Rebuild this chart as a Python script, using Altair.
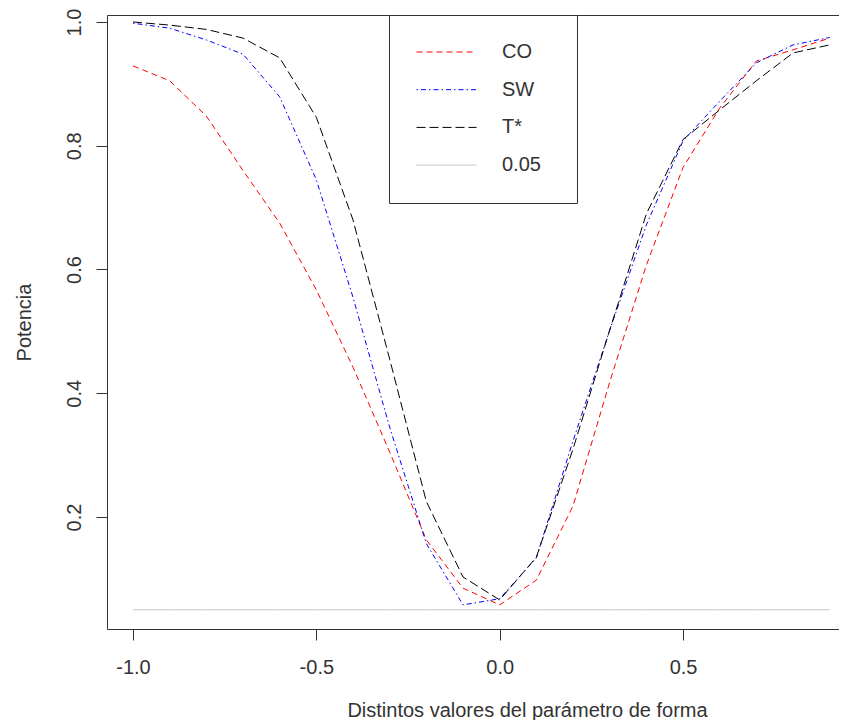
import altair as alt
import pandas as pd

# x: distinct values of the shape parameter
x_vals = [-1.0, -0.9, -0.8, -0.7, -0.6, -0.5, -0.4, -0.3, -0.2, -0.1,
          0.0, 0.1, 0.2, 0.3, 0.4, 0.5, 0.6, 0.7, 0.8, 0.9]

co = [0.929, 0.905, 0.848, 0.760, 0.675, 0.567, 0.442, 0.305, 0.163, 0.085,
      0.058, 0.098, 0.218, 0.418, 0.607, 0.765, 0.861, 0.937, 0.955, 0.974]
sw = [0.998, 0.990, 0.971, 0.948, 0.879, 0.745, 0.555, 0.345, 0.157, 0.058,
      0.068, 0.134, 0.323, 0.502, 0.672, 0.808, 0.872, 0.934, 0.963, 0.975]
tstar = [1.000, 0.995, 0.988, 0.974, 0.942, 0.846, 0.680, 0.455, 0.225, 0.103,
         0.066, 0.135, 0.310, 0.502, 0.690, 0.810, 0.858, 0.905, 0.950, 0.963]
ref = [0.05, 0.05, 0.05, 0.05, 0.05, 0.05, 0.05, 0.05, 0.05, 0.05,
       0.05, 0.05, 0.05, 0.05, 0.05, 0.05, 0.05, 0.05, 0.05, 0.05]

series_names = ["CO", "SW", "T*", "0.05"]
series_colors = ["#ff0000", "#0000ff", "#000000", "#c4c4c4"]
series_dashes = [[6, 4], [1.5, 3, 5, 3], [9, 4], [1, 0]]

x_ticks = [-1.0, -0.5, 0.0, 0.5]
y_ticks = [0.2, 0.4, 0.6, 0.8, 1.0]

rows = []
for name, vals in zip(series_names, [co, sw, tstar, ref]):
    for xv, yv in zip(x_vals, vals):
        rows.append({"x": xv, "y": yv, "serie": name})
df = pd.DataFrame(rows)

FONT = "Liberation Sans"
INK = "#333333"

xscale = alt.Scale(domain=[-1.0709, 0.9253], nice=False, zero=False)
yscale = alt.Scale(domain=[0.0190, 1.0113], nice=False, zero=False)

x_axis = alt.Axis(
    values=x_ticks,
    labelExpr="replace(format(datum.value, '.1f'), '−', '-')",
    tickSize=11, tickColor=INK, tickWidth=1,
    domainColor=INK, domainWidth=1,
    labelFont=FONT, labelFontSize=20, labelColor=INK,
    labelPadding=17, labelBaseline="top", labelFlush=False, labelOverlap=False,
    grid=False,
    title="Distintos valores del parámetro de forma",
    titleFont=FONT, titleFontSize=20, titleFontWeight="normal", titleColor=INK,
    titleX=420, titleY=87, titleAlign="center", titleBaseline="alphabetic",
)

y_axis = alt.Axis(
    values=y_ticks, format=".1f",
    tickSize=11, tickColor=INK, tickWidth=1,
    domainColor=INK, domainWidth=1,
    labelFont=FONT, labelFontSize=20, labelColor=INK,
    labelAngle=270, labelAlign="center", labelBaseline="alphabetic",
    labelPadding=16, labelFlush=False, labelOverlap=False,
    grid=False,
    title="Potencia",
    titleFont=FONT, titleFontSize=20, titleFontWeight="normal", titleColor=INK,
    titleAngle=270, titleX=-77, titleY=307, titleAlign="center",
    titleBaseline="alphabetic",
)

legend = alt.Legend(
    orient="none", legendX=282, legendY=0, title=None, direction="vertical",
    padding=27, strokeColor=INK, fillColor="white", cornerRadius=0,
    symbolType="stroke", symbolSize=3600, symbolStrokeWidth=1,
    clipHeight=20,
    labelFont=FONT, labelFontSize=20, labelColor=INK, labelOffset=25,
    rowPadding=17.7,
    labelExpr="datum.label == 'SW' ? datum.label + '\u2800' : datum.label",
)

lines = alt.Chart(df).mark_line(strokeWidth=1, clip=True).encode(
    x=alt.X("x:Q", scale=xscale, axis=x_axis),
    y=alt.Y("y:Q", scale=yscale, axis=y_axis),
    color=alt.Color("serie:N", scale=alt.Scale(domain=series_names, range=series_colors),
                    legend=legend),
    strokeDash=alt.StrokeDash("serie:N", scale=alt.Scale(domain=series_names, range=series_dashes),
                              legend=legend),
)

top_border = alt.Chart(df).mark_line(opacity=0).encode(
    x=alt.X("x:Q", scale=xscale,
            axis=alt.Axis(orient="top", labels=False, ticks=False, title=None, grid=False,
                          domainColor=INK, domainWidth=1)),
    y=alt.Y("y:Q", scale=yscale, axis=None),
)

chart = alt.layer(lines, top_border).resolve_axis(x="independent", y="independent").properties(
    width=732, height=614,
    autosize=alt.AutoSizeParams(type="none"),
    padding={"left": 99, "top": 7, "right": 0, "bottom": 91},
    background="white",
).configure_view(stroke=None)

chart.save("out.html", embed_options={"renderer": "svg", "actions": False})
